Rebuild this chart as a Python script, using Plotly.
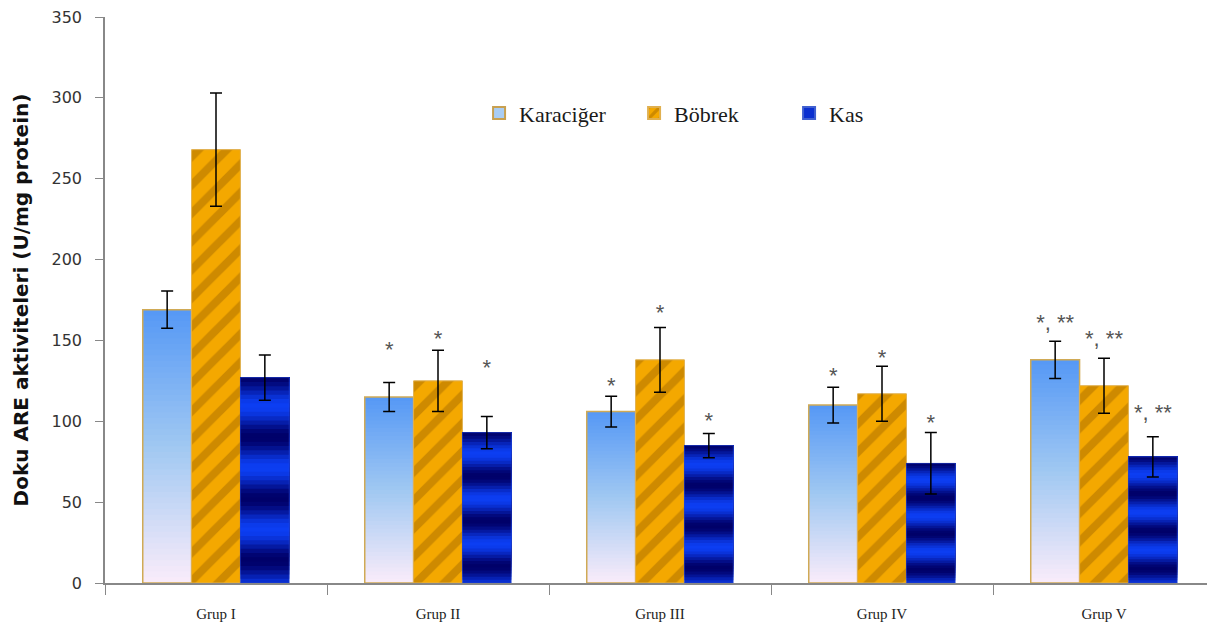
import math
import plotly.graph_objects as go

groups = ["Grup I", "Grup II", "Grup III", "Grup IV", "Grup V"]

karaciger = [169, 115, 106, 110, 138]
karaciger_err = [11.5, 9, 9.5, 11, 11.5]
bobrek = [268, 125, 138, 117, 122]
bobrek_err = [35, 19, 20, 17, 17]
kas = [127, 93, 85, 74, 78]
kas_err = [14, 10, 7.5, 19, 12.5]

# significance marks and where they sit
karaciger_sig = ["", "*", "*", "*", "*, **"]
karaciger_sig_y = [None, 143, 121, 127, 160]
bobrek_sig = ["", "*", "*", "*", "*, **"]
bobrek_sig_y = [None, 150, 166, 138, 150]
kas_sig = ["", "*", "*", "*", "*, **"]
kas_sig_y = [None, 132, 99, 98, 104]

N = 48


def mix(c1, c2, t):
    return "rgb(%d,%d,%d)" % tuple(round(a + (b - a) * t) for a, b in zip(c1, c2))


fig = go.Figure()

# --- Karaciğer: vertical gradient (pale pink bottom -> blue top)
bottom_c = (250, 236, 250)
mid_c = (160, 200, 242)
top_c = (85, 152, 245)
for i in range(N):
    f = (i + 0.5) / N
    col = mix(bottom_c, mid_c, f / 0.5) if f < 0.5 else mix(mid_c, top_c, (f - 0.5) / 0.5)
    fig.add_trace(go.Bar(
        x=groups, y=[v * (N - i) / N for v in karaciger], base=[v * i / N for v in karaciger],
        offsetgroup="K", marker=dict(color=col, line=dict(width=0)),
        showlegend=False, hoverinfo="skip"))
fig.add_trace(go.Bar(
    x=groups, y=karaciger, offsetgroup="K", name="Karaciğer",
    marker=dict(color="rgba(0,0,0,0)", line=dict(color="#d0aa55", width=1.5)),
    error_y=dict(type="data", array=karaciger_err, color="black", thickness=1.5, width=6),
    showlegend=False))

# --- Böbrek: orange diagonal stripes
fig.add_trace(go.Bar(
    x=groups, y=bobrek, offsetgroup="B", name="Böbrek",
    marker=dict(color="#f2a400", line=dict(color="#e0b050", width=1),
                pattern=dict(shape="/", fgcolor="#a86c00", bgcolor="#f4a800",
                             size=20, solidity=0.4)),
    error_y=dict(type="data", array=bobrek_err, color="black", thickness=1.5, width=6),
    showlegend=True, legendrank=2))

# --- Kas: blue with horizontal dark bands
bright_c = (12, 62, 242)
dark_c = (0, 0, 105)
for i in range(N):
    f = (i + 0.5) / N
    g = 1 - f
    t = 0.5 + 0.5 * math.cos(2 * math.pi * (g - 0.14) / 0.3)
    col = mix(dark_c, bright_c, t)
    fig.add_trace(go.Bar(
        x=groups, y=[v * (N - i) / N for v in kas], base=[v * i / N for v in kas],
        offsetgroup="S", marker=dict(color=col, line=dict(width=0)),
        showlegend=False, hoverinfo="skip"))
fig.add_trace(go.Bar(
    x=groups, y=kas, offsetgroup="S", name="Kas",
    marker=dict(color="rgba(0,0,0,0)", line=dict(color="#3050d0", width=0.5)),
    error_y=dict(type="data", array=kas_err, color="black", thickness=1.5, width=6),
    showlegend=False))

# legend entries
fig.add_trace(go.Bar(x=groups, y=[None] * 5, offsetgroup="K", name="Karaciğer",
                     marker=dict(color="#a9cdf4", line=dict(color="#c8a050", width=1.5)),
                     legendrank=1, hoverinfo="skip"))
fig.add_trace(go.Bar(x=groups, y=[None] * 5, offsetgroup="S", name="Kas",
                     marker=dict(color="#0a2fd0", line=dict(color="#4060d0", width=1)),
                     legendrank=3, hoverinfo="skip"))

# significance text
for sig, sy, og in [(karaciger_sig, karaciger_sig_y, "K"),
                    (bobrek_sig, bobrek_sig_y, "B"),
                    (kas_sig, kas_sig_y, "S")]:
    fig.add_trace(go.Scatter(
        x=groups, y=sy, text=sig, mode="text", offsetgroup=og,
        textfont=dict(family="Liberation Sans, Arial", size=22, color="#555"),
        textposition="middle center", showlegend=False, hoverinfo="skip"))

fig.update_layout(
    width=1215, height=631,
    margin=dict(l=97, r=8, t=9, b=56, autoexpand=False),
    plot_bgcolor="white", paper_bgcolor="white",
    barmode="group", bargap=0.34, bargroupgap=0,
    scattermode="group",
    legend=dict(orientation="h", x=0.337, y=0.83, xanchor="left", yanchor="middle",
                font=dict(family="Liberation Serif", size=22, color="#1a1a1a"),
                entrywidth=110, entrywidthmode="pixels", bgcolor="rgba(0,0,0,0)",
                itemsizing="constant", traceorder="normal"),
    xaxis=dict(showline=True, linecolor="#888", linewidth=1.5, ticks="outside",
               tickson="boundaries", ticklen=10, tickcolor="#888", automargin=False,
               ticklabelstandoff=16,
               tickfont=dict(family="Liberation Serif", size=15, color="#222"),
               showgrid=False),
    yaxis=dict(range=[0, 350], dtick=50, showline=True, linecolor="#888", linewidth=1.5,
               ticks="outside", ticklen=8, tickcolor="#888", showgrid=False, zeroline=False,
               automargin=False, ticklabelstandoff=10, ticklabeloverflow="allow",
               tickfont=dict(family="DejaVu Sans", size=16, color="#333"),
               title=dict(text="<b>Doku ARE aktiviteleri (U/mg protein)</b>",
                          font=dict(family="DejaVu Sans", size=20, color="#111"),
                          standoff=18)),
    showlegend=True,
)

fig.write_html("out.html")
